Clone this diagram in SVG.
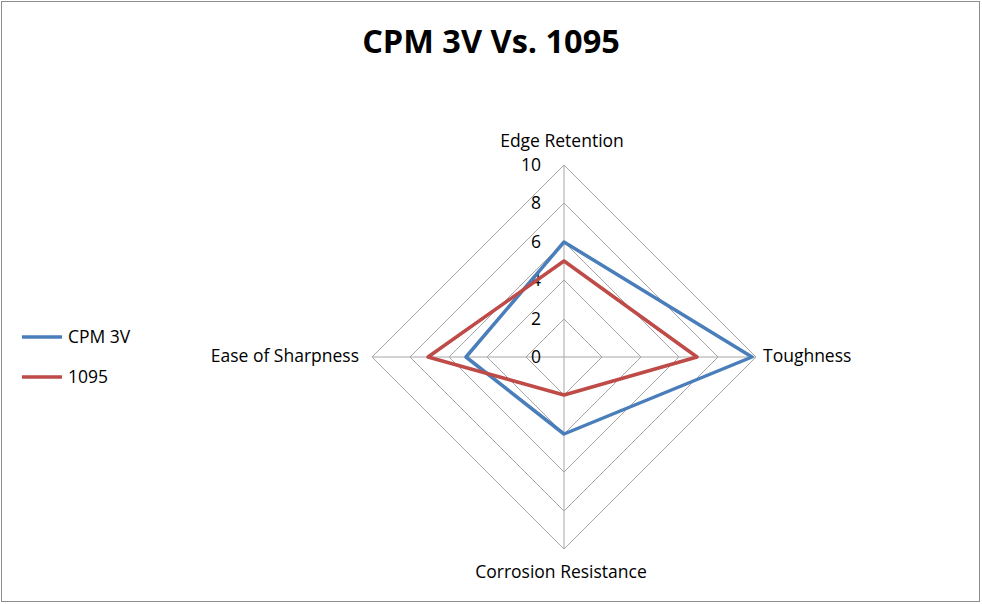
<svg xmlns="http://www.w3.org/2000/svg" width="982" height="604" viewBox="0 0 982 604">
<style>
.g{fill:none;stroke:#a6a6a6;stroke-width:1}
.t{font-family:"Open Sans","Liberation Sans",sans-serif;font-size:17.5px;fill:#000}
.n{font-family:"Open Sans","Liberation Sans",sans-serif;font-size:17.5px;fill:#000;text-anchor:end}
.s{fill:none;stroke-width:3.5;stroke-linejoin:round}
</style>
<rect x="0" y="0" width="982" height="604" fill="#fff"/>
<rect x="1.5" y="1.5" width="978" height="600" fill="none" stroke="#8c8c8c"/>
<text x="491" y="53" text-anchor="middle" font-family="Open Sans,Liberation Sans,sans-serif" font-weight="bold" font-size="32.5">CPM 3V Vs. 1095</text>
<g id="grid">
<polygon class="g" points="564,319 602,357 564,395 526,357"/>
<polygon class="g" points="564,280 641,357 564,434 487,357"/>
<polygon class="g" points="564,242 679,357 564,472 449,357"/>
<polygon class="g" points="564,203 718,357 564,511 410,357"/>
<polygon class="g" points="564,165 756,357 564,549 372,357"/>
<line class="g" x1="564" y1="165" x2="564" y2="549"/>
<line class="g" x1="372" y1="357" x2="756" y2="357"/>
</g>
<g id="scale">
<text class="n" x="541" y="363">0</text>
<text class="n" x="541" y="325">2</text>
<text class="n" x="541" y="286">4</text>
<text class="n" x="541" y="248">6</text>
<text class="n" x="541" y="209">8</text>
<text class="n" x="541" y="171">10</text>
</g>
<g id="labels">
<text class="t" x="562" y="147" text-anchor="middle">Edge Retention</text>
<text class="t" x="763" y="362">Toughness</text>
<text class="t" x="561" y="578" text-anchor="middle">Corrosion Resistance</text>
<text class="t" x="359" y="362" text-anchor="end">Ease of Sharpness</text>
</g>
<g id="connectors">
<polygon id="cpm3v" class="s" stroke="#4a7ebb" points="564,242 752,357 564,434 466,357"/>
<polygon id="s1095" class="s" stroke="#be4b48" points="564,261 697,357 564,395 428,357"/>
</g>
<g id="legend">
<line x1="22" y1="337" x2="62" y2="337" stroke="#4a7ebb" stroke-width="3.5"/>
<text class="t" x="68" y="343">CPM 3V</text>
<line x1="22" y1="377" x2="62" y2="377" stroke="#be4b48" stroke-width="3.5"/>
<text class="t" x="68" y="383">1095</text>
</g>
</svg>
